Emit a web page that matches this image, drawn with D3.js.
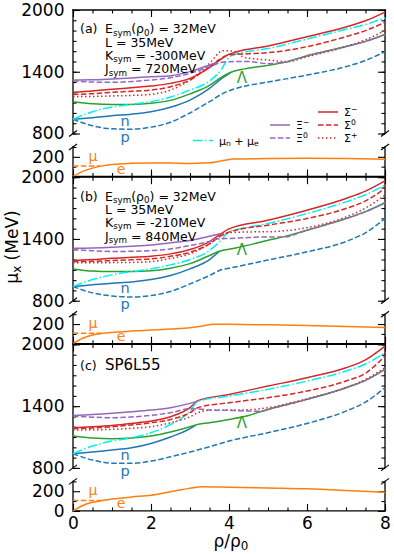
<!DOCTYPE html>
<html><head><meta charset="utf-8">
<script src="https://cdn.jsdelivr.net/npm/d3@7"></script>
<style>body{margin:0;background:#fff}svg{display:block}text{font-family:"DejaVu Sans",sans-serif}</style>
</head><body>
<svg id="c" width="394" height="554"></svg>
<script>
// ---------- DATA (x = rho/rho0, y = mu in MeV) ----------
const xTicksMajor = [0, 2, 4, 6, 8];
const yUpperLabels = [800, 1400, 2000];
const yLowerLabels = [0, 200];
const panelNames = ["(a)", "(b)", "(c)"];
const paramsA = ["32", "35", "-300", "720"];
const paramsB = ["32", "35", "-210", "840"];
const panelCName = "SP6L55";

// Panel (a)
const a_n = [[0,938],[0.5,954],[1,973],[1.5,988],[2,1012],[2.5,1055],[3,1125],[3.5,1239],[3.8,1330],[4.05,1395]];
const a_p = [[0,938],[0.5,876],[1,846],[1.5,842],[2,862],[2.5,910],[3,1000],[3.5,1110],[3.9,1200],[4.2,1240],[5,1300],[6,1368],[7,1450],[7.5,1510],[8,1595]];
const a_L = [[0,1109],[0.5,1090],[1,1083],[1.5,1083],[2,1093],[2.5,1122],[3,1185],[3.5,1268],[3.8,1345],[4.05,1395],[4.4,1428],[5,1462],[5.4,1490],[6,1555],[7,1645],[7.5,1695],[8,1762]];
const a_mune = [[0,938],[0.5,1012],[1,1058],[1.5,1083],[2,1109],[2.5,1155],[3,1222],[3.5,1310],[3.8,1420],[4,1540],[4.2,1575],[5,1625],[6,1718],[7,1812],[7.5,1860],[8,1925]];
const a_Sm = [[0,1200],[0.5,1213],[1,1230],[1.5,1245],[2,1261],[2.5,1287],[3,1336],[3.5,1440],[4,1570],[4.2,1595],[5,1650],[6,1740],[7,1835],[7.5,1895],[8,1980]];
const a_S0 = [[0,1180],[0.5,1187],[1,1200],[1.5,1210],[2,1222],[2.5,1255],[3,1320],[3.5,1449],[3.8,1530],[4,1565],[4.5,1575],[5,1585],[6,1644],[7,1741],[7.5,1800],[8,1880]];
const a_Sp = [[0,1158],[0.5,1160],[1,1165],[1.5,1170],[2,1180],[2.5,1222],[3,1320],[3.5,1482],[3.85,1605],[4.1,1600],[4.4,1540],[5,1514],[5.5,1498],[6,1546],[7,1644],[7.5,1710],[8,1800]];
const a_Xm = [[0,1320],[0.5,1322],[1,1330],[1.5,1340],[2,1352],[2.5,1362],[3,1401],[3.5,1466],[3.7,1492]];
const a_X0 = [[0,1310],[0.5,1300],[1,1297],[1.5,1305],[2,1320],[2.5,1342],[3,1385],[3.5,1449],[3.8,1490],[4,1498],[4.5,1500],[5,1478],[5.4,1490],[6,1555],[7,1645],[7.5,1695],[8,1762]];
const a_mu = [[0,105.7],[0.7,105.7]];
const a_e = [[0,0],[0.25,52],[0.5,85],[0.75,108],[1,122],[1.5,134],[2,138],[2.5,137],[3,133],[3.5,140],[3.9,165],[4.1,178],[5,182],[6,185],[7,183],[8,175]];

// Panel (b)
const b_n = [[0,938],[0.5,954],[1,970],[1.5,982],[2,1006],[2.5,1045],[3,1109],[3.5,1200],[3.75,1278]];
const b_p = [[0,938],[0.5,876],[1,846],[1.5,836],[2,850],[2.5,889],[3,963],[3.5,1045],[3.8,1100],[4,1115],[5,1195],[6,1275],[7,1375],[7.5,1460],[8,1598]];
const b_L = [[0,1109],[0.5,1088],[1,1083],[1.5,1083],[2,1090],[2.5,1116],[3,1160],[3.5,1239],[3.75,1280],[4,1300],[4.5,1340],[5,1388],[5.4,1420],[6,1485],[7,1598],[7.5,1665],[8,1752]];
const b_mune = [[0,938],[0.5,1006],[1,1051],[1.5,1083],[2,1109],[2.5,1148],[3,1200],[3.5,1287],[3.75,1370],[4,1468],[4.2,1490],[5,1550],[6,1647],[7,1760],[7.5,1830],[8,1922]];
const b_Sm = [[0,1190],[0.5,1200],[1,1213],[1.5,1222],[2,1232],[2.5,1255],[3,1297],[3.5,1375],[3.75,1440],[4,1498],[5,1582],[6,1679],[7,1793],[7.5,1865],[8,1964]];
const b_S0 = [[0,1180],[0.5,1183],[1,1190],[1.5,1198],[2,1206],[2.5,1232],[3,1271],[3.5,1352],[3.8,1433],[4,1466],[5,1534],[6,1598],[7,1696],[7.5,1770],[8,1890]];
const b_Sp = [[0,1168],[0.5,1168],[1,1170],[1.5,1172],[2,1180],[2.5,1210],[3,1255],[3.5,1352],[3.75,1420],[4,1462],[4.5,1468],[5,1470],[6,1510],[7,1614],[7.5,1700],[8,1825]];
const b_Xm = [[0,1310],[0.5,1313],[1,1320],[1.5,1330],[2,1342],[2.5,1362],[3,1385],[3.5,1427],[3.8,1452]];
const b_X0 = [[0,1297],[0.5,1285],[1,1278],[1.5,1280],[2,1287],[2.5,1303],[3,1336],[3.5,1375],[3.75,1401],[4,1405],[4.5,1414],[5,1420],[5.4,1420],[6,1485],[7,1598],[7.5,1665],[8,1752]];
const b_mu = [[0,105.7],[0.75,105.7]];
const b_e = [[0,0],[0.25,55],[0.5,88],[0.75,105],[1,115],[1.5,128],[2,139],[2.5,150],[3,163],[3.3,178],[3.6,198],[4,197],[5,192],[6,185],[7,176],[8,165]];

// Panel (c)
const c_n = [[0,938],[0.5,954],[1,973],[1.5,996],[2,1038],[2.5,1100],[3,1181],[3.15,1216]];
const c_p = [[0,938],[0.5,876],[1,846],[1.5,844],[2,866],[2.5,908],[3,954],[3.5,1006],[4,1061],[5,1142],[6,1232],[7,1352],[7.5,1440],[8,1579]];
const c_L = [[0,1109],[0.5,1090],[1,1083],[1.5,1090],[2,1109],[2.5,1148],[3,1200],[3.15,1218],[3.5,1239],[4,1271],[4.5,1310],[4.8,1345],[5,1368],[6,1466],[7,1579],[7.5,1650],[8,1757]];
const c_mune = [[0,938],[0.5,1012],[1,1061],[1.5,1093],[2,1142],[2.5,1222],[2.8,1287],[3,1352],[3.2,1445],[4,1498],[5,1563],[6,1644],[7,1741],[7.5,1810],[8,1919]];
const c_Sm = [[0,1190],[0.5,1200],[1,1213],[1.5,1232],[2,1255],[2.5,1297],[3,1385],[3.2,1452],[4,1514],[5,1595],[6,1676],[7,1773],[7.5,1850],[8,1984]];
const c_S0 = [[0,1180],[0.5,1188],[1,1200],[1.5,1217],[2,1239],[2.5,1271],[3,1336],[3.2,1385],[4,1433],[5,1482],[6,1547],[7,1644],[7.5,1720],[8,1887]];
const c_Sp = [[0,1168],[0.5,1170],[1,1174],[1.5,1185],[2,1200],[2.5,1239],[3,1297],[3.2,1336],[3.5,1359],[4,1362],[4.5,1365],[5,1385],[6,1472],[7,1579],[7.5,1660],[8,1773]];
const c_Xm = [[0,1310],[0.5,1318],[1,1330],[1.5,1345],[2,1362],[2.5,1385],[3,1427],[3.2,1449]];
const c_X0 = [[0,1304],[0.5,1293],[1,1287],[1.5,1295],[2,1310],[2.5,1336],[3,1375],[3.3,1370],[3.5,1362],[4,1359],[4.5,1352],[4.8,1350],[5,1368],[6,1466],[7,1579],[7.5,1650],[8,1757]];
const c_mu = [[0,105.7],[0.72,105.7]];
const c_e = [[0,0],[0.25,55],[0.5,87],[0.75,106],[1,120],[1.5,142],[2,160],[2.5,195],[3,230],[3.3,245],[4,240],[5,232],[6,224],[7,208],[8,189]];

// ---------- STYLE ----------
const C = {blue:"#1f77b4", green:"#2ca02c", red:"#d62728", purple:"#9467bd", cyan:"#00f0f8", orange:"#ff7f0e"};
const LW = 1.5;
const DASH = {solid:null, dashed:"5.5,2.4", dotted:"1.5,2.5", dashdot:"9.6,2.4,1.5,2.4"};

const svg = d3.select("#c");
const X0 = 73, X1 = 385;
const tops = [10, 177.2, 344.4];
const x = d3.scaleLinear().domain([0, 8]).range([X0, X1]);

function rich(g, px, py, parts, size, anchor, fill) {
  const t = g.append("text").attr("x", px).attr("y", py)
    .attr("font-size", size).attr("text-anchor", anchor || "start").attr("fill", fill || "#000");
  let shift = 0;
  parts.forEach(([s, k]) => {
    const sp = t.append("tspan").text(s);
    let target = 0;
    if (k === "sub") { sp.attr("font-size", size * 0.7); target = size * 0.18; }
    else if (k === "sup") { sp.attr("font-size", size * 0.7); target = -size * 0.38; }
    sp.attr("dy", target - shift);
    shift = target;
  });
  return t;
}

const panelsData = [
  {n:a_n,p:a_p,L:a_L,mune:a_mune,Sm:a_Sm,S0:a_S0,Sp:a_Sp,Xm:a_Xm,X0:a_X0,mu:a_mu,e:a_e},
  {n:b_n,p:b_p,L:b_L,mune:b_mune,Sm:b_Sm,S0:b_S0,Sp:b_Sp,Xm:b_Xm,X0:b_X0,mu:b_mu,e:b_e},
  {n:c_n,p:c_p,L:c_L,mune:c_mune,Sm:c_Sm,S0:c_S0,Sp:c_Sp,Xm:c_Xm,X0:c_X0,mu:c_mu,e:c_e}
];
const lambdaLabelDy = [73, 78, 84];

panelsData.forEach((D, i) => {
  const T = tops[i];
  const yU = d3.scaleLinear().domain([800, 2000]).range([T + 123.5, T]);
  const yL = d3.scaleLinear().domain([0, 300]).range([T + 166.5, T + 137]);
  const g = svg.append("g");

  // ---- axes: upper ----
  const minorY = d3.range(800, 2001, 100);
  g.append("g").attr("transform", `translate(${X0},0)`)
    .call(d3.axisLeft(yU).tickValues(minorY).tickSize(-3.5).tickFormat(""));
  g.append("g").attr("transform", `translate(${X0},0)`)
    .call(d3.axisLeft(yU).tickValues(yUpperLabels).tickSize(-7).tickPadding(8.5).tickFormat(d3.format("d")));
  g.append("g").attr("transform", `translate(${X1},0)`)
    .call(d3.axisRight(yU).tickValues(minorY).tickSize(-3.5).tickFormat(""));
  g.append("g").attr("transform", `translate(${X1},0)`)
    .call(d3.axisRight(yU).tickValues(yUpperLabels).tickSize(-7).tickFormat(""));
  g.append("g").attr("transform", `translate(0,${T})`)
    .call(d3.axisTop(x).tickValues(d3.range(0, 8.01, 0.5)).tickSize(-3.5).tickFormat(""));
  g.append("g").attr("transform", `translate(0,${T})`)
    .call(d3.axisTop(x).tickValues(xTicksMajor).tickSize(-7).tickFormat(""));

  // ---- axes: lower ----
  const lowLabels = i === 2 ? yLowerLabels : yLowerLabels.filter(v => v !== 0);
  g.append("g").attr("transform", `translate(${X0},0)`)
    .call(d3.axisLeft(yL).tickValues([100, 300]).tickSize(-3.5).tickFormat(""));
  g.append("g").attr("transform", `translate(${X0},0)`)
    .call(d3.axisLeft(yL).tickValues(yLowerLabels).tickSize(-7).tickPadding(8.5)
      .tickFormat(v => lowLabels.includes(v) ? d3.format("d")(v) : ""));
  g.append("g").attr("transform", `translate(${X1},0)`)
    .call(d3.axisRight(yL).tickValues([100, 300]).tickSize(-3.5).tickFormat(""));
  g.append("g").attr("transform", `translate(${X1},0)`)
    .call(d3.axisRight(yL).tickValues(yLowerLabels).tickSize(-7).tickFormat(""));
  g.append("g").attr("transform", `translate(0,${T + 166.5})`)
    .call(d3.axisBottom(x).tickValues(d3.range(0, 8.01, 0.5)).tickSize(-3.5).tickFormat(""));
  g.append("g").attr("transform", `translate(0,${T + 166.5})`)
    .call(d3.axisBottom(x).tickValues(xTicksMajor).tickSize(-7).tickPadding(6.5)
      .tickFormat(i === 2 ? d3.format("d") : ""));

  g.selectAll(".domain").remove();
  g.selectAll(".tick line").attr("stroke", "#000").attr("stroke-width", 1.1);
  g.selectAll(".tick text").attr("font-size", 17).attr("font-family", "DejaVu Sans").attr("fill", "#000");

  // spines
  const sp = (x1, y1, x2, y2) => g.append("line").attr("x1", x1).attr("y1", y1).attr("x2", x2).attr("y2", y2)
    .attr("stroke", "#000").attr("stroke-width", 1.3).attr("stroke-linecap", "square");
  sp(X0, T, X1, T); sp(X0, T, X0, T + 123.5); sp(X1, T, X1, T + 123.5);
  sp(X0, T + 137, X0, T + 166.5); sp(X1, T + 137, X1, T + 166.5); sp(X0, T + 166.5, X1, T + 166.5);
  // break marks
  [X0, X1].forEach(bx => {
    [T + 123.5, T + 137].forEach(by => {
      g.append("line").attr("x1", bx - 4).attr("y1", by + 3).attr("x2", bx + 4).attr("y2", by - 3)
        .attr("stroke", "#000").attr("stroke-width", 1.1);
    });
  });

  // ---- curves ----
  const lineU = d3.line().x(d => x(d[0])).y(d => yU(d[1])).curve(d3.curveMonotoneX);
  const lineL = d3.line().x(d => x(d[0])).y(d => yL(d[1])).curve(d3.curveMonotoneX);
  const draw = (data, gen, color, dash) => g.append("path").attr("d", gen(data)).attr("fill", "none")
    .attr("stroke", color).attr("stroke-width", LW).attr("stroke-dasharray", dash);
  draw(D.p, lineU, C.blue, DASH.dashed);
  draw(D.n, lineU, C.blue, DASH.solid);
  draw(D.L, lineU, C.green, DASH.solid);
  draw(D.Sm, lineU, C.red, DASH.solid);
  draw(D.mune, lineU, C.cyan, DASH.dashdot);
  draw(D.S0, lineU, C.red, DASH.dashed);
  draw(D.Sp, lineU, C.red, DASH.dotted);
  draw(D.Xm, lineU, C.purple, DASH.solid);
  draw(D.X0, lineU, C.purple, DASH.dashed);
  draw(D.e, lineL, C.orange, DASH.solid);
  draw(D.mu, lineL, C.orange, DASH.dashed);

  // ---- curve labels ----
  const lab = (s, lx, ly, col, fs) => g.append("text").attr("x", lx).attr("y", ly).attr("text-anchor", "middle")
    .attr("font-size", fs).attr("fill", col).text(s);
  lab("n", 125, T + 115.5, C.blue, 14.5);
  lab("p", 125, T + 132, C.blue, 14.5);
  lab("Λ", 242, T + lambdaLabelDy[i], C.green, 15);
  lab("μ", 93, T + 151, C.orange, 14);
  lab("e", 121, T + 164, C.orange, 14);

  // ---- annotations ----
  if (i < 2) {
    const P = i === 0 ? paramsA : paramsB;
    rich(g, 80, T + 23.3, [[panelNames[i], "n"]], 12.5);
    rich(g, 105, T + 23.3, [["E", "n"], ["sym", "sub"], ["(ρ", "n"], ["0", "sub"], [") = " + P[0] + "MeV", "n"]], 12.5);
    rich(g, 105, T + 36.7, [["L = " + P[1] + "MeV", "n"]], 12.5);
    rich(g, 105, T + 50, [["K", "n"], ["sym", "sub"], [" = " + P[2] + "MeV", "n"]], 12.5);
    rich(g, 105, T + 63.3, [["J", "n"], ["sym", "sub"], [" = " + P[3] + "MeV", "n"]], 12.5);
  } else {
    rich(g, 80, T + 25.5, [[panelNames[i], "n"]], 12.5);
    rich(g, 105, T + 25.5, [[panelCName, "n"]], 15);
  }

  // ---- legend (panel a only) ----
  if (i === 0) {
    const leg = [
      {x:318, y:112, c:C.red, d:DASH.solid, t:[["Σ","n"],["−","sup"]]},
      {x:270, y:125, c:C.purple, d:DASH.solid, t:[["Ξ","n"],["−","sup"]]},
      {x:318, y:125, c:C.red, d:DASH.dashed, t:[["Σ","n"],["0","sup"]]},
      {x:193, y:140.5, c:C.cyan, d:DASH.dashdot, t:[["μ","n"],["n","sub"],[" + μ","n"],["e","sub"]]},
      {x:270, y:138, c:C.purple, d:DASH.dashed, t:[["Ξ","n"],["0","sup"]]},
      {x:318, y:138, c:C.red, d:DASH.dotted, t:[["Σ","n"],["+","sup"]]}
    ];
    leg.forEach(l => {
      g.append("line").attr("x1", l.x).attr("x2", l.x + 20).attr("y1", l.y).attr("y2", l.y)
        .attr("stroke", l.c).attr("stroke-width", LW).attr("stroke-dasharray", l.d);
      rich(g, l.x + 26, l.y + 4, l.t, 11);
    });
  }
});

// axis titles
rich(svg, 231, 547, [["ρ/ρ", "n"], ["0", "sub"]], 17, "middle");
const yl = rich(svg, 0, 0, [["μ", "n"], ["x", "sub"], [" (MeV)", "n"]], 17, "middle");
yl.attr("transform", "translate(18,247) rotate(-90)");
</script>
</body></html>
